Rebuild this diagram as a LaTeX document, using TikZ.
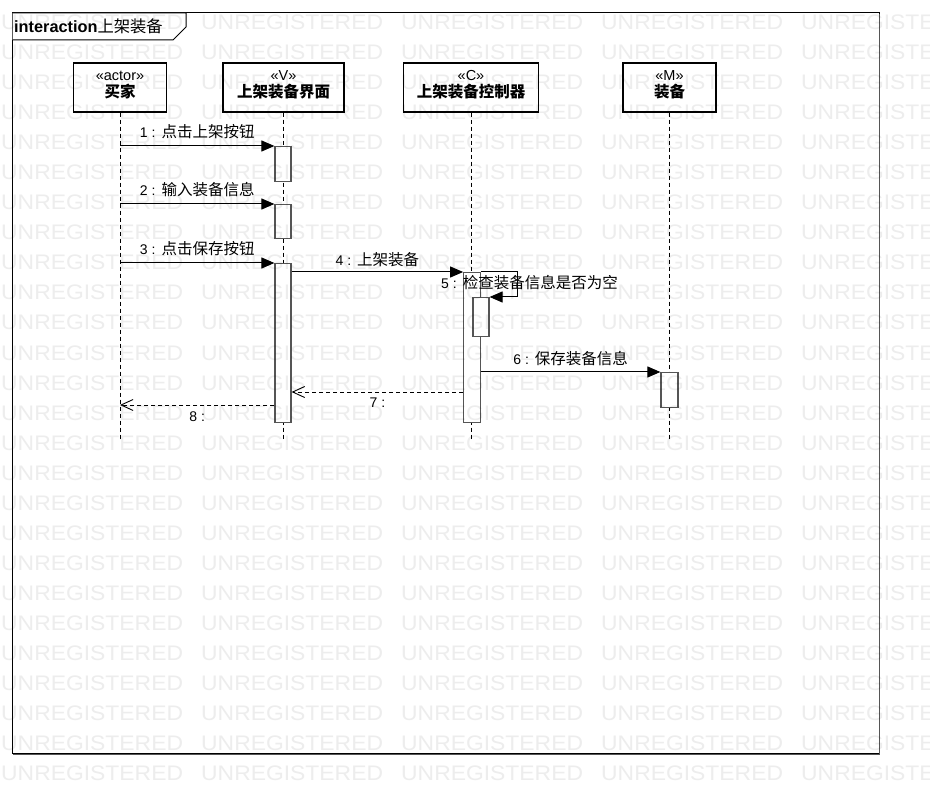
\documentclass[tikz,border=0pt]{standalone}
\usepackage{fontspec}
\usepackage{graphicx}
\setmainfont{Liberation Sans}
\newfontfamily\cjk{Noto Sans CJK SC}
\usetikzlibrary{arrows.meta,backgrounds}
\definecolor{wmark}{RGB}{237,237,237}
\definecolor{shadowc}{RGB}{240,240,240}
\definecolor{edgegray}{RGB}{85,85,85}
\newcommand\msgtxt[2]{\fontsize{14}{16}\selectfont #1\hspace{4pt}:\hspace{6pt}{\cjk\fontsize{15.5}{16}\selectfont #2}}
\newcommand\sttxt[1]{\fontsize{14.5}{16}\selectfont #1}
\newcommand\nmtxt[1]{{\cjk\bfseries\fontsize{15.5}{16}\selectfont #1}}
\begin{document}
\begin{tikzpicture}[x=1pt,y=-1pt,
  hdr/.style={draw=black, line width=1.1pt, fill=white, minimum height=49pt, inner sep=0pt},
  shd/.style={fill=shadowc, draw=none},
  txt/.style={inner sep=0pt, anchor=center},
  bar/.style={draw=edgegray, line width=1.2pt, fill=white, minimum width=16pt, inner sep=0pt, anchor=north},
  lifeline/.style={draw=black, line width=0.9pt, dash pattern=on 4pt off 3pt},
  msg/.style={draw=black, line width=1pt, -{Triangle[length=13pt,width=11pt]}},
  ret/.style={draw=black, line width=0.9pt, dash pattern=on 4pt off 3pt, -{Straight Barb[length=12pt,width=11pt]}},
  lab/.style={inner sep=0pt, anchor=center},
  wm/.style={anchor=base west, inner sep=0pt, text=wmark, font=\fontsize{21}{21}\selectfont},
]
\useasboundingbox[fill=white] (0,0) rectangle (930,805);

% frame
\draw[black, line width=1pt] (12.5,13) rectangle (879,753.5);
\draw[edgegray, line width=1.5pt] (879.5,14) -- (879.5,754.5) -- (13,754.5);
\draw[black, line width=1pt, fill=white] (12.5,13) -- (186,13) -- (186,27) -- (173,40) -- (12.5,40);
\node[anchor=west, inner sep=0pt] (title) at (14,26.5) {\fontsize{16.3}{17}\selectfont{\bfseries interaction}{\cjk 上架装备}};

% lifeline heads
\node[hdr, minimum width=93pt] (actor) at (120,87.5) {};
\node[hdr, minimum width=121pt] (view) at (283.5,87.5) {};
\node[hdr, minimum width=135pt] (ctrl) at (471,87.5) {};
\node[hdr, minimum width=93pt] (model) at (669.5,87.5) {};

\begin{pgfonlayer}{background}
\foreach \b in {actor,view,ctrl,model}
  \fill[shd] ([shift={(10,10)}]\b.north west) rectangle ([shift={(10,10)}]\b.south east);
\end{pgfonlayer}

\node[txt] (actorst) at (120,76) {\sttxt{«actor»}};
\node[txt] (actornm) at (120,91.5) {\nmtxt{买家}};
\node[txt] (viewst) at (283.5,76) {\sttxt{«V»}};
\node[txt] (viewnm) at (283.5,91.5) {\nmtxt{上架装备界面}};
\node[txt] (ctrlst) at (471,76) {\sttxt{«C»}};
\node[txt] (ctrlnm) at (471,91.5) {\nmtxt{上架装备控制器}};
\node[txt] (modelst) at (669.5,76) {\sttxt{«M»}};
\node[txt] (modelnm) at (669.5,91.5) {\nmtxt{装备}};

% lifelines
\coordinate (bottom) at (0,440);
\foreach \b in {actor,view,ctrl,model}
  \draw[lifeline] (\b.south) -- (\b.south |- bottom);

% activation bars
\node[bar, minimum height=35pt] (v1) at (283,146) {};
\node[bar, minimum height=34pt] (v2) at (283,204) {};
\node[bar, minimum height=159pt] (v3) at (283,263) {};
\node[bar, minimum height=150pt, minimum width=16.5pt] (c1) at (472,272) {};
\node[bar, minimum height=39pt] (c2) at (481,297) {};
\node[bar, minimum height=35pt, minimum width=17pt] (m1) at (669.5,372) {};

% messages
\draw[msg] (actor |- v1.north) -- (v1.north west)
  node[lab, pos=0.5, yshift=14pt] (l1) {\msgtxt{1}{点击上架按钮}};
\draw[msg] (actor |- v2.north) -- (v2.north west)
  node[lab, pos=0.5, yshift=14pt] (l2) {\msgtxt{2}{输入装备信息}};
\draw[msg] (actor |- v3.north) -- (v3.north west)
  node[lab, pos=0.5, yshift=14pt] (l3) {\msgtxt{3}{点击保存按钮}};
\draw[msg] (v3.east |- c1.north) -- (c1.north west)
  node[lab, pos=0.5, yshift=12pt] (l4) {\msgtxt{4}{上架装备}};
\draw[msg] (c1.north east) -- ++(37,0) |- (c2.north east);
\node[lab] (l5) at (529.5,283) {\msgtxt{5}{检查装备信息是否为空}};
\draw[msg] (c1.east |- m1.north) -- (m1.north west)
  node[lab, pos=0.5, yshift=13pt] (l6) {\msgtxt{6}{保存装备信息}};
\coordinate (r7) at (0,392);
\draw[ret] (c1.west |- r7) -- (v3.east |- r7)
  node[lab, pos=0.5, yshift=-11pt] (l7) {\msgtxt{7}{}};
\coordinate (r8) at (0,405);
\draw[ret] (v3.west |- r8) -- (actor |- r8)
  node[lab, pos=0.5, yshift=-12pt] (l8) {\msgtxt{8}{}};

% watermark
\begin{scope}[blend mode=multiply]
\foreach \i in {0,...,4}
  \foreach \j in {0,...,25}
    \node[wm] (wm-\i-\j) at (1+200*\i, 30+30*\j) {\scalebox{1.09}[1]{UNREGISTERED}};
\end{scope}
\end{tikzpicture}
\end{document}
